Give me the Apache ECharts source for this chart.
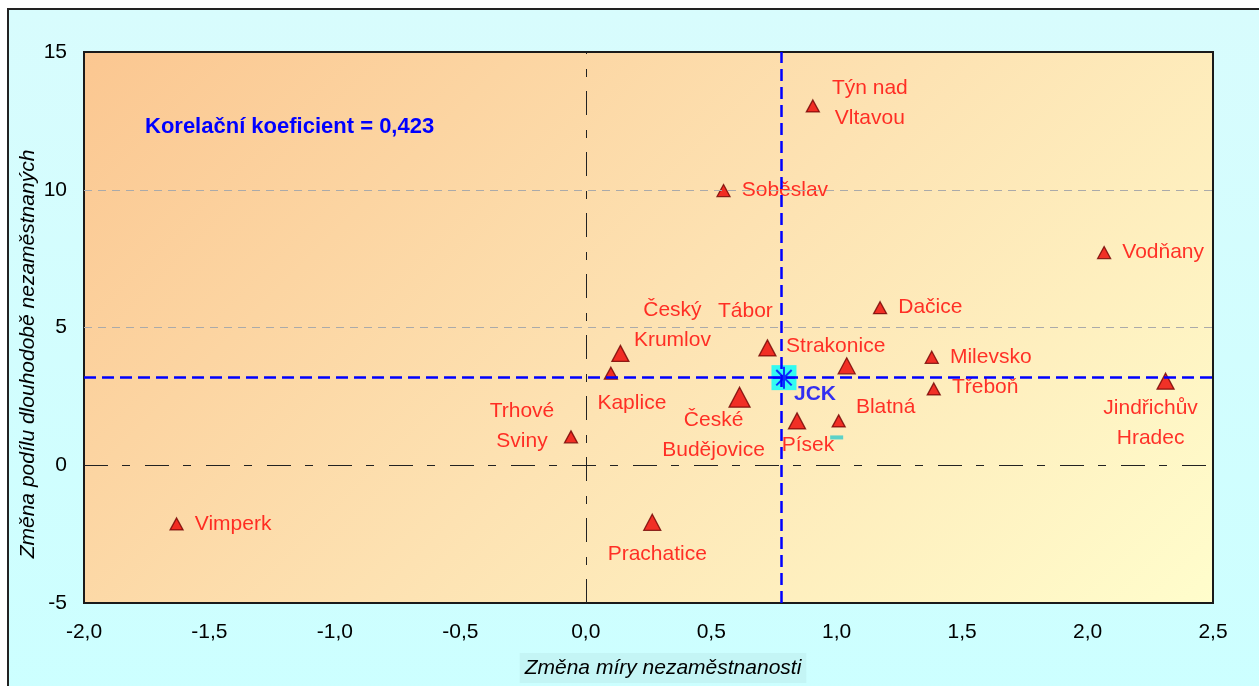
<!DOCTYPE html>
<html><head><meta charset="utf-8">
<script src="https://cdn.jsdelivr.net/npm/echarts@6/dist/echarts.min.js"></script>
<style>
html,body{margin:0;padding:0;background:#fff;overflow:hidden;width:1259px;height:686px}
#frame{position:absolute;left:7px;top:8px;width:1300px;height:700px;border:2px solid #222;background:linear-gradient(180deg,#d8fcfd 0%,#ccffff 100%);}
#chart{position:absolute;left:0;top:0;width:1259px;height:686px;}
</style></head><body>
<div id="frame"></div><div id="chart"></div>
<script>
// ---- data ----
const mesta = ['Týn nad Vltavou','Soběslav','Vodňany','Dačice','Tábor','Český Krumlov','Milevsko','Strakonice','Kaplice','Jindřichův Hradec','Třeboň','České Budějovice','Písek','Blatná','Trhové Sviny','Prachatice','Vimperk'];
const zmenaMiry = [0.905, 0.549, 2.066, 1.173, 0.724, 0.138, 1.379, 1.040, 0.100, 2.311, 1.387, 0.613, 0.842, 1.008, -0.059, 0.265, -1.631];
const zmenaPodilu = [13.04, 9.97, 7.72, 5.72, 4.26, 4.06, 3.92, 3.61, 3.34, 3.05, 2.77, 2.47, 1.61, 1.61, 1.03, -2.07, -2.13];
const velikost = [1, 1, 1, 1, 2, 2, 1, 2, 1, 2, 1, 3, 2, 1, 1, 2, 1]; // size class of the district
const jckBod = [0.79, 3.18];        // JCK point
const jckPrumer = [0.78, 3.21];     // JCK average lines (x, y)
const znacka = [1.0, 1.01];         // small cyan mark
const xRozsah = [-2.0, 2.5, 0.5];   // min, max, interval
const yRozsah = [-5, 15, 5];
const yMrizka = [5, 10];
const korelace = 'Korelační koeficient = 0,423';
const xNazev = 'Změna míry nezaměstnanosti';
const yNazev = 'Změna podílu dlouhodobě nezaměstnaných';

// ---- styles ----
const FONT = "'Liberation Sans', Arial, sans-serif";
const sizeMap = {1: [13, 12], 2: [17, 16], 3: [21, 20]};
const labelLayout = {
  'Týn nad Vltavou':   {pos: 'inside', off: [57, -3], two: true},
  'Soběslav':          {pos: 'right'},
  'Vodňany':           {pos: 'right'},
  'Dačice':            {pos: 'right'},
  'Tábor':             {pos: 'inside', off: [-22, -37]},
  'Český Krumlov':     {pos: 'inside', off: [52, -28], two: true},
  'Milevsko':          {pos: 'right'},
  'Strakonice':        {pos: 'inside', off: [-11, -20]},
  'Kaplice':           {pos: 'inside', off: [21, 30]},
  'Jindřichův Hradec': {pos: 'inside', off: [-15, 42], two: true},
  'Třeboň':            {pos: 'right', off: [0, -2]},
  'České Budějovice':  {pos: 'inside', off: [-26, 38], two: true},
  'Písek':             {pos: 'inside', off: [11, 24]},
  'Blatná':            {pos: 'inside', off: [47, -14]},
  'Trhové Sviny':      {pos: 'inside', off: [-49, -11], two: true},
  'Prachatice':        {pos: 'inside', off: [5, 32]},
  'Vimperk':           {pos: 'right'}
};

const townData = mesta.map((m, i) => {
  const L = labelLayout[m];
  const txt = L.two ? m.replace(/ (?=[^ ]*$)/, '\n') : m;
  return {
    name: m,
    value: [zmenaMiry[i], zmenaPodilu[i]],
    symbolSize: sizeMap[velikost[i]],
    label: {
      show: true, formatter: txt, position: L.pos,
      distance: 11, offset: L.off || [0, 0],
      color: '#ff0000', fontSize: 21, fontFamily: FONT, lineHeight: 30,
      align: L.pos === 'right' ? 'left' : 'center', verticalAlign: 'middle'
    }
  };
});

const dashDot = {color: '#222', width: 1, type: [24, 14, 8, 15]};
const gridDash = {color: '#aaaaaa', width: 1, type: [8, 6]};
const blueDash = {color: '#0000ff', width: 2.5, type: [12, 6]};

const chart = echarts.init(document.getElementById('chart'), null, {renderer: 'canvas'});
chart.setOption({
  animation: false,
  backgroundColor: 'transparent',
  grid: {
    left: 84, right: 46, top: 52, bottom: 83, show: true,
    backgroundColor: {type: 'linear', global: true, x: 84, y: 52, x2: 924, y2: 892,
      colorStops: [{offset: 0, color: '#fbc791'}, {offset: 0.5, color: '#fde2b2'}, {offset: 1, color: '#fffdcc'}]},
    borderColor: '#1a1a1a', borderWidth: 2
  },
  xAxis: {
    type: 'value', min: xRozsah[0], max: xRozsah[1], interval: xRozsah[2],
    axisLine: {show: false}, axisTick: {show: false}, splitLine: {show: false},
    axisLabel: {margin: 19, color: '#000', fontSize: 21, fontFamily: FONT,
      formatter: v => v.toFixed(1).replace('.', ',')}
  },
  yAxis: {
    type: 'value', min: yRozsah[0], max: yRozsah[1], interval: yRozsah[2],
    axisLine: {show: false}, axisTick: {show: false}, splitLine: {show: false},
    axisLabel: {margin: 17, color: '#000', fontSize: 21, fontFamily: FONT}
  },
  graphic: [
    {type: 'text', x: 145, y: 127, z: 10,
      style: {text: korelace, font: 'bold 22px ' + FONT, fill: '#0000ff', verticalAlign: 'middle'}},
    {type: 'text', x: 663, y: 668, z: 10,
      style: {text: xNazev, font: 'italic 21px ' + FONT, fill: '#000', align: 'center', verticalAlign: 'middle',
        backgroundColor: '#c4f5f5', padding: [5, 5, 4, 5]}},
    {type: 'text', x: 28, y: 354, rotation: Math.PI / 2, z: 10,
      style: {text: yNazev, font: 'italic 21px ' + FONT, fill: '#000', align: 'center', verticalAlign: 'middle'}}
  ],
  series: [
    {
      type: 'scatter', data: [], z: 1, silent: true,
      markLine: {
        silent: true, symbol: ['none', 'none'], label: {show: false},
        data: yMrizka.map(v => ({yAxis: v, lineStyle: gridDash}))
          .concat([{yAxis: 0, lineStyle: dashDot}, {xAxis: 0, lineStyle: dashDot}])
      }
    },
    {
      type: 'scatter', z: 2, symbol: 'triangle',
      itemStyle: {color: '#ee0000', borderColor: '#700000', borderWidth: 1.3},
      data: townData
    },
    {
      type: 'scatter', data: [], z: 3, silent: true,
      markLine: {
        silent: true, symbol: ['none', 'none'], label: {show: false},
        data: [{xAxis: jckPrumer[0], lineStyle: blueDash}, {yAxis: jckPrumer[1], lineStyle: blueDash}]
      }
    },
    {
      type: 'scatter', z: 3, symbol: 'rect', symbolSize: [13, 4],
      itemStyle: {color: '#33cccc'}, data: [znacka]
    },
    {
      type: 'scatter', z: 4, symbol: 'rect', symbolSize: 25,
      itemStyle: {color: '#00ffff'}, data: [jckBod]
    },
    {
      type: 'scatter', z: 5, symbol: 'path://M10,0L10,20M0,10L20,10M3,3L17,17M3,17L17,3', symbolSize: 22,
      itemStyle: {color: 'transparent', borderColor: '#0000ff', borderWidth: 2},
      data: [{name: 'JCK', value: jckBod}],
      label: {show: true, formatter: 'JCK', position: 'inside', offset: [31, 17],
        color: '#0000ff', fontWeight: 'bold', fontSize: 21, fontFamily: FONT}
    }
  ]
});
</script>
</body></html>
